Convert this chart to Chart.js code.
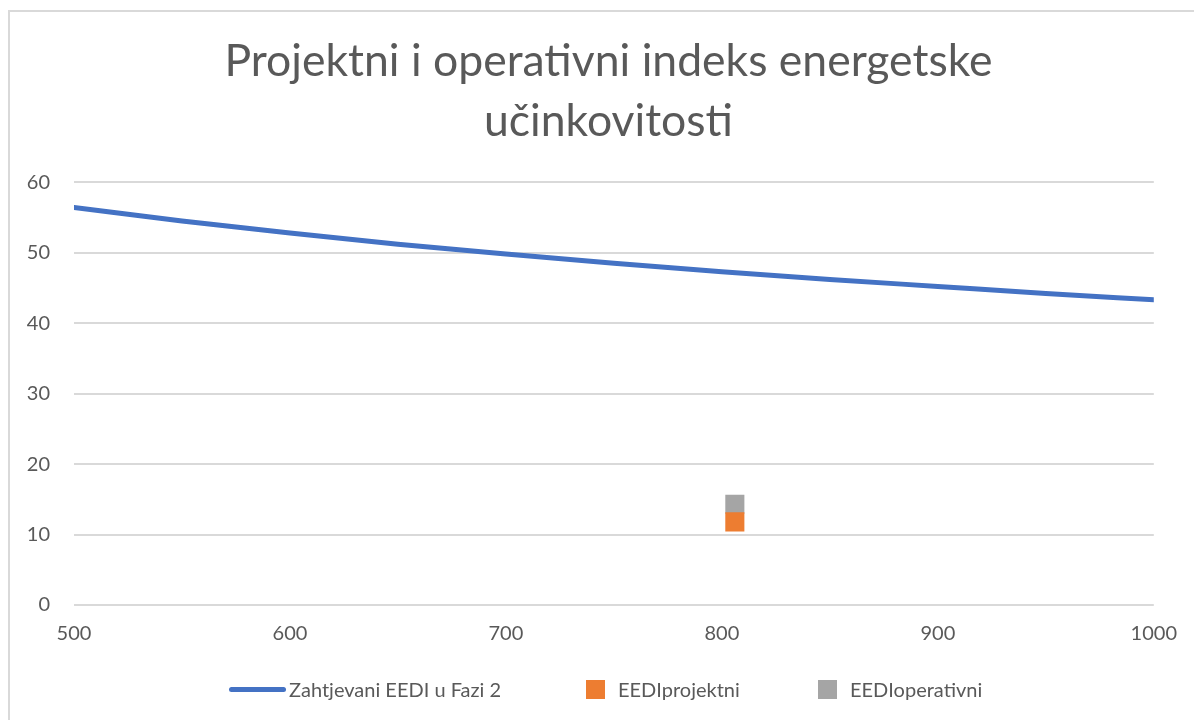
<!DOCTYPE html>
<html>
<head>
<meta charset="utf-8">
<script src="https://cdn.jsdelivr.net/npm/chart.js@4/dist/chart.umd.min.js"></script>
<style>
  html, body { margin: 0; padding: 0; background: #fff; }
  #wrap { position: relative; width: 1194px; height: 720px; overflow: hidden; }
  #frame { position: absolute; left: 8px; top: 10px; width: 1300px; height: 800px;
           border: 2px solid #d9d9d9; box-sizing: border-box; pointer-events: none; }
  canvas { position: absolute; left: 0; top: 0; }
  .leg { position: absolute; top: 678px; height: 22px; display: flex; align-items: center;
         font: 20px Lato, sans-serif; color: #595959; white-space: nowrap; }
  .sw-line { width: 57px; height: 5px; border-radius: 3px; background: #4472c4; margin-right: 3px; }
  .sw-box { width: 19px; height: 19px; margin-right: 13px; }
</style>
</head>
<body>
<div id="wrap">
  <canvas id="c" width="1194" height="720"></canvas>
  <div id="frame"></div>
  <div class="leg" style="left:229px"><span class="sw-line"></span><span id="l0"></span></div>
  <div class="leg" style="left:586px"><span class="sw-box" style="background:#ed7d31"></span><span id="l1"></span></div>
  <div class="leg" style="left:818px"><span class="sw-box" style="background:#a5a5a5"></span><span id="l2"></span></div>
</div>
<script>
// required EEDI curve (phase 2)
const reqX = [500, 550, 600, 650, 700, 750, 800, 850, 900, 950, 1000];
const reqY = [56.4, 54.5, 52.8, 51.2, 49.8, 48.5, 47.3, 46.2, 45.2, 44.2, 43.3];
const projX = [806];
const projY = [11.8];
const operX = [806];
const operY = [14.3];
const seriesNames = ['Zahtjevani EEDI u Fazi 2', 'EEDIprojektni', 'EEDIoperativni'];
const titleLines = ['Projektni i operativni indeks energetske', 'učinkovitosti'];

const TXT = '#595959';
const GRID = '#d9d9d9';
const FONT = 'Lato, sans-serif';

const pts = (xs, ys) => xs.map((x, i) => ({ x, y: ys[i] }));

seriesNames.forEach((n, i) => { document.getElementById('l' + i).textContent = n; });

new Chart(document.getElementById('c'), {
  type: 'scatter',
  data: {
    datasets: [
      { label: seriesNames[0], data: pts(reqX, reqY), showLine: true,
        borderColor: '#4472c4', borderWidth: 5, borderCapStyle: 'round',
        pointRadius: 0, cubicInterpolationMode: 'monotone', order: 0 },
      { label: seriesNames[1], data: pts(projX, projY), pointStyle: 'rect',
        pointRadius: 13.5, backgroundColor: '#ed7d31', borderWidth: 0, order: 1 },
      { label: seriesNames[2], data: pts(operX, operY), pointStyle: 'rect',
        pointRadius: 13.5, backgroundColor: '#a5a5a5', borderWidth: 0, order: 2 },
    ]
  },
  options: {
    responsive: false,
    animation: false,
    layout: { padding: { top: 10, right: 0, bottom: 75, left: 23 } },
    plugins: {
      legend: { display: false },
      tooltip: { enabled: false },
      title: {
        display: true, text: titleLines, color: TXT,
        font: { family: FONT, size: 44.5, weight: 'normal', lineHeight: 1.35 },
        padding: { top: 22, bottom: 30 }
      }
    },
    scales: {
      x: {
        type: 'linear', min: 500, max: 1000,
        ticks: { stepSize: 100, color: TXT, padding: 17, font: { family: FONT, size: 20 },
                 callback: v => String(v) },
        grid: { display: false, drawTicks: false },
        border: { display: false },
        afterFit: s => { s.height = 40; }
      },
      y: {
        min: 0, max: 60,
        ticks: { stepSize: 10, color: TXT, padding: 24, font: { family: FONT, size: 20 } },
        grid: { color: GRID, lineWidth: 2, drawTicks: false },
        border: { display: false },
        afterFit: s => { s.width = 51; }
      },
      // empty right-hand axis, only keeps the plot edge where the reference has it
      yr: {
        position: 'right', min: 0, max: 60,
        ticks: { display: false },
        grid: { display: false, drawTicks: false },
        border: { display: false },
        afterFit: s => { s.width = 36; }
      }
    }
  }
});
</script>
</body>
</html>
